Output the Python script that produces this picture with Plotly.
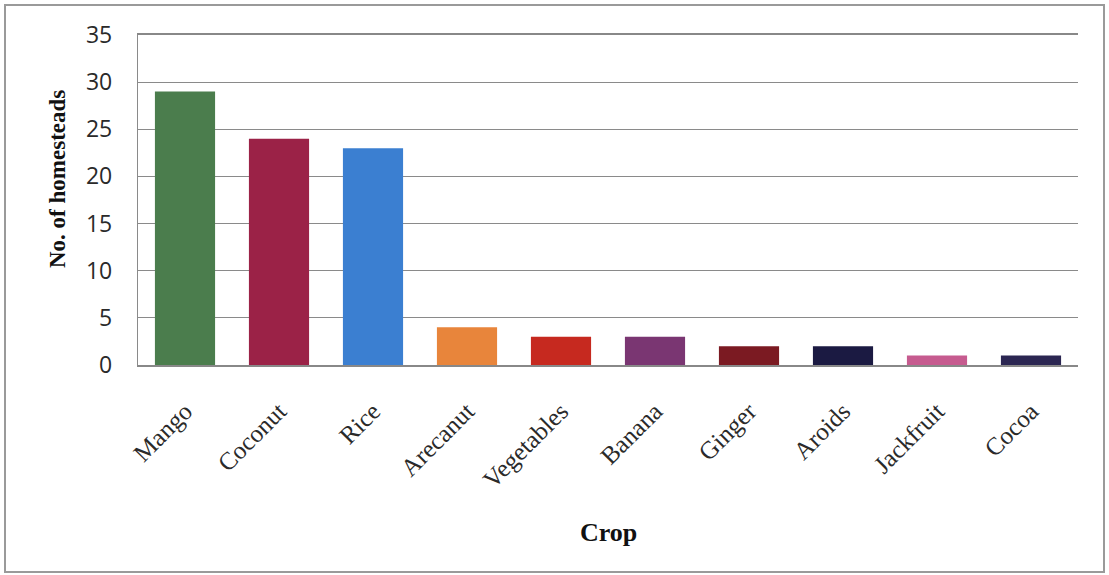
import plotly.graph_objects as go

crops = ["Mango", "Coconut", "Rice", "Arecanut", "Vegetables", "Banana", "Ginger", "Aroids", "Jackfruit", "Cocoa"]
homesteads = [29, 24, 23, 4, 3, 3, 2, 2, 1, 1]
colors = ["#4b7d4d", "#9b2247", "#3b7fd1", "#e8853b", "#c6291f", "#7a3672", "#7b1a22", "#1b1a42", "#c65b8f", "#2b2652"]
y_ticks = [0, 5, 10, 15, 20, 25, 30, 35]

W, H = 1109, 575
L, R, T, B = 138, 31, 35, 210

fig = go.Figure(go.Bar(x=crops, y=homesteads, marker=dict(color=colors, line=dict(width=0)), width=0.64))

pw = W - L - R
ph = H - T - B
def px(x):
    return (x - L) / pw
def py(y):
    return (H - B - y) / ph

fig.update_layout(
    width=W, height=H,
    margin=dict(l=L, r=R, t=T, b=B),
    paper_bgcolor="white", plot_bgcolor="white",
    showlegend=False,
    xaxis=dict(
        tickangle=-45,
        tickfont=dict(family="Liberation Serif", size=25, color="#2a2a2a"),
        ticklabelstandoff=20,
        showline=True, linecolor="#888", linewidth=1.5, mirror=True,
        ticks="", showgrid=False,
    ),
    yaxis=dict(
        range=[0, 35], tickvals=y_ticks,
        tickfont=dict(family="Open Sans", size=23, color="#2a2a2a"),
        ticklabelstandoff=20,
        showgrid=True, gridcolor="#8a8a8a", gridwidth=1.3,
        showline=True, linecolor="#8a8a8a", linewidth=1.3,
        ticks="", ticklen=0, zeroline=False,
    ),
    annotations=[
        dict(text="<b>No. of homesteads</b>", xref="paper", yref="paper",
             x=px(57), y=py(179), textangle=-90, showarrow=False,
             xanchor="center", yanchor="middle",
             font=dict(family="Liberation Serif", size=23, color="#111")),
        dict(text="<b>Crop</b>", xref="paper", yref="paper",
             x=px(608), y=py(532), showarrow=False,
             xanchor="center", yanchor="middle",
             font=dict(family="Liberation Serif", size=26, color="#111")),
    ],
    shapes=[
        dict(type="rect", xref="paper", yref="paper",
             x0=px(5), x1=px(1104), y0=py(5), y1=py(572),
             line=dict(color="#9a9a9a", width=2), fillcolor="rgba(0,0,0,0)", layer="below"),
    ],
)

fig.write_html("out.html")
